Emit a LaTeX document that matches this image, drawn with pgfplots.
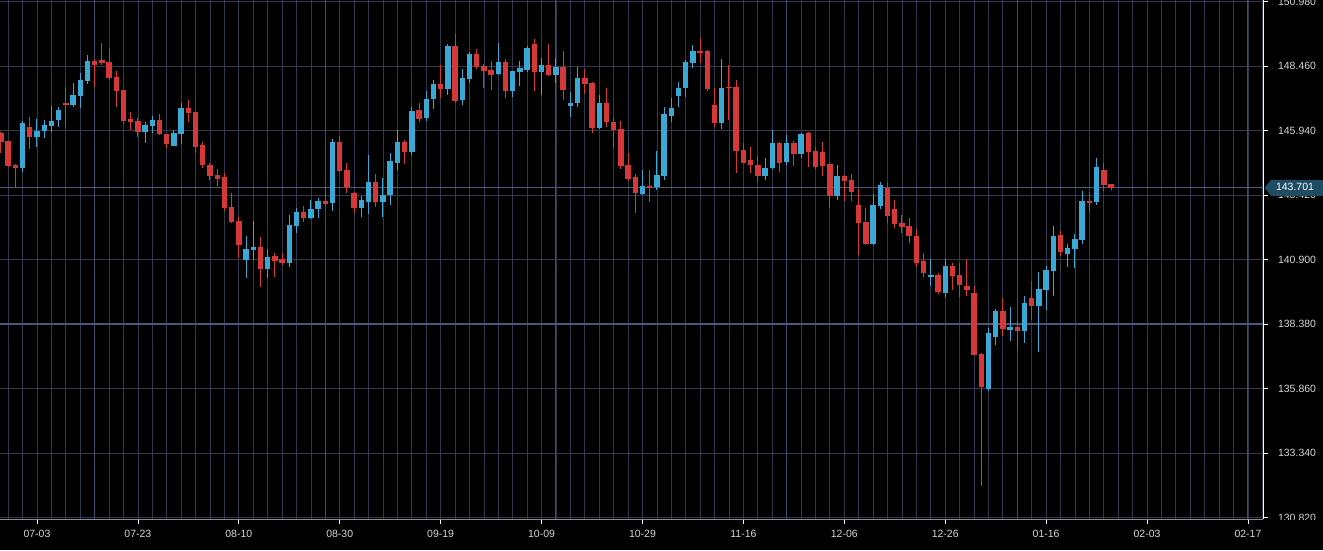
\documentclass[border=0pt]{standalone}
\usepackage{pgfplots}
\pgfplotsset{compat=1.18}
\usepackage{pgfplotstable}
\usepackage{fontspec}
\setmainfont{Liberation Sans}
\definecolor{bg}{RGB}{0,0,0}
\definecolor{gridc}{RGB}{50,56,80}
\definecolor{gridb}{RGB}{78,86,122}
\definecolor{gridv}{RGB}{66,73,106}
\definecolor{upc}{RGB}{58,168,212}
\definecolor{dnc}{RGB}{212,56,56}
\definecolor{tickc}{RGB}{212,212,212}
\definecolor{pricebg}{RGB}{31,76,99}
\definecolor{axc}{RGB}{140,140,150}

\pgfplotstableread{
i o h l c
3 144.46 146.32 144.33 146.22
5 145.70 146.38 145.28 145.92
6 145.92 146.35 145.63 146.15
7 146.13 146.90 145.87 146.31
8 146.35 146.85 146.08 146.74
10 146.94 147.78 146.85 147.31
11 147.30 148.17 146.81 147.91
12 147.87 148.89 147.76 148.65
20 145.89 146.28 145.44 146.15
21 146.13 146.51 145.83 146.35
24 145.35 145.96 145.33 145.85
25 145.82 147.03 145.40 146.81
34 140.88 141.83 140.19 141.31
35 141.27 142.40 140.88 141.39
37 140.53 141.30 140.17 140.99
40 140.78 142.64 140.62 142.25
41 142.21 142.92 141.92 142.74
43 142.53 143.22 142.47 142.86
44 142.87 143.29 142.51 143.19
46 143.09 145.59 142.81 145.50
50 142.92 143.38 142.57 143.22
51 143.16 144.98 142.67 143.92
53 143.16 144.07 142.57 143.42
54 143.42 145.05 143.03 144.75
55 144.68 145.96 144.40 145.49
57 145.11 146.85 144.98 146.71
59 146.42 147.48 146.31 147.17
60 147.17 147.91 146.78 147.76
62 147.56 149.32 147.33 149.24
64 147.13 148.33 146.94 147.99
65 147.95 149.02 147.81 148.93
69 148.15 149.37 148.12 148.60
71 147.49 148.28 147.26 148.26
72 148.24 148.65 147.69 148.39
73 148.30 149.24 148.21 149.17
75 148.24 148.76 147.33 148.49
77 148.11 148.78 147.78 148.43
79 146.90 147.46 146.45 147.03
80 147.00 148.41 146.87 148.00
83 146.03 147.33 145.99 147.03
89 143.46 144.40 143.42 143.77
91 143.75 145.15 143.62 144.20
92 144.18 146.85 144.01 146.57
93 146.52 147.22 146.28 146.81
94 147.30 147.85 146.87 147.62
95 147.62 148.69 147.26 148.62
96 148.56 149.28 148.37 149.05
100 146.24 148.72 145.99 147.62
106 144.18 144.85 144.01 144.49
107 144.46 145.96 144.42 145.44
109 144.70 145.76 144.59 145.44
111 145.02 145.85 144.85 145.80
116 143.39 144.59 143.22 144.18
121 141.51 143.45 141.48 143.03
122 143.00 143.91 142.86 143.81
129 140.21 140.91 139.87 140.29
131 139.60 140.91 139.45 140.65
137 135.83 138.21 135.78 138.04
138 137.89 138.95 137.56 138.90
140 138.15 139.06 137.72 138.25
142 138.12 139.47 137.63 139.21
144 139.10 140.42 137.30 139.75
145 139.71 140.65 138.93 140.49
146 140.46 142.21 139.47 141.82
148 141.12 141.49 140.62 141.36
149 141.31 141.88 140.56 141.70
150 141.66 143.58 141.51 143.19
152 143.13 144.85 143.03 144.53
}\up

\pgfplotstableread{
i o h l c
0 145.83 145.89 145.05 145.50
1 145.53 145.55 144.50 144.55
2 144.60 144.62 143.74 144.49
4 146.06 146.45 145.21 145.70
9 147.03 147.65 146.08 146.95
13 148.65 148.72 147.65 148.50
14 148.69 149.37 148.50 148.59
15 148.60 149.11 147.91 148.00
16 148.03 148.26 146.87 147.48
17 147.52 147.54 146.19 146.32
18 146.38 146.66 145.96 146.29
19 146.32 146.42 145.70 145.89
22 146.35 146.58 145.76 145.79
23 145.80 145.82 145.24 145.41
26 146.81 147.13 146.28 146.64
27 146.66 146.68 145.05 145.31
28 145.37 145.50 144.49 144.59
29 144.59 144.68 144.01 144.16
30 144.20 144.44 143.78 144.05
31 144.11 144.27 142.81 142.93
32 142.96 143.49 142.31 142.37
33 142.40 142.57 140.95 141.47
36 141.39 141.79 139.84 140.53
38 141.04 141.17 140.20 140.84
39 140.91 141.17 140.69 140.78
42 142.74 142.99 142.38 142.51
45 143.19 143.68 143.00 143.06
47 145.50 145.72 144.33 144.37
48 144.40 144.68 143.49 143.75
49 143.51 143.53 142.70 142.92
52 143.92 144.24 142.94 143.16
56 145.50 145.57 144.63 145.11
58 146.74 147.03 146.26 146.39
61 147.76 148.52 147.20 147.56
63 149.24 149.71 147.00 147.09
66 148.93 149.11 148.33 148.43
67 148.46 148.54 147.59 148.26
68 148.30 148.65 147.52 148.11
70 148.60 148.72 147.20 147.49
74 149.32 149.51 147.49 148.24
76 148.49 149.32 148.07 148.11
78 148.43 149.06 147.13 147.52
81 148.00 148.33 147.35 147.74
82 147.78 147.85 145.83 146.03
84 147.03 147.59 146.06 146.26
85 146.26 146.42 145.24 145.96
86 146.00 146.32 144.42 144.55
87 144.59 145.07 143.98 144.05
88 144.14 144.24 142.73 143.51
90 143.77 144.40 143.16 143.72
97 149.05 149.54 148.59 148.98
98 149.05 149.08 147.49 147.55
99 146.94 147.59 146.09 146.24
101 147.65 148.50 146.35 147.61
102 147.65 147.91 144.27 145.15
103 145.18 145.44 144.66 144.68
104 144.79 145.31 144.27 144.59
105 144.59 144.94 143.94 144.18
108 145.46 145.50 144.33 144.66
110 145.44 145.53 144.55 145.02
112 145.83 145.89 144.53 145.11
113 145.14 145.28 144.42 144.53
114 145.09 145.50 144.16 144.55
115 144.63 144.68 142.90 143.39
117 144.18 144.20 143.20 143.98
118 144.01 144.23 143.20 143.55
119 143.03 143.64 141.08 142.34
120 142.38 142.90 141.45 141.49
123 143.71 143.88 142.31 142.61
124 142.87 143.22 142.12 142.29
125 142.34 142.64 141.92 142.18
126 142.22 142.51 141.53 141.83
127 141.82 142.08 140.60 140.78
128 140.85 141.14 140.23 140.38
130 140.29 140.38 139.55 139.64
132 140.65 140.75 139.71 140.27
133 140.29 140.75 139.45 139.90
134 139.87 140.91 139.47 139.71
135 139.60 139.87 137.15 137.17
136 137.21 137.25 132.05 135.91
139 138.90 139.41 137.92 138.19
141 138.27 138.51 137.37 138.12
143 139.41 140.06 138.54 139.10
147 141.86 142.01 141.04 141.21
151 143.19 143.55 142.70 143.13
153 144.40 144.68 143.59 143.81
154 143.85 143.86 143.63 143.70
}\dn

\begin{document}
\begin{tikzpicture}
\useasboundingbox (0pt,0pt) rectangle (1323pt,550pt);
\clip (0pt,0pt) rectangle (1323pt,550pt);
\fill[bg] (0pt,0pt) rectangle (1323pt,550pt);
\begin{axis}[
  at={(0pt,31pt)}, anchor=south west,
  width=1263pt, height=519pt, scale only axis,
  xmin=-0.133, xmax=175.09, ymin=130.76, ymax=151.04,
  axis x line*=bottom, axis y line*=right,
  x axis line style={draw=axc, line width=0.8pt},
  y axis line style={draw=white, line width=1pt},
  xtick={5,19,...,173},
  xticklabels={07-03,07-23,08-10,08-30,09-19,10-09,10-29,11-16,12-06,12-26,01-16,02-03,02-17},
  minor xtick={1,3,...,175},
  ytick={130.82,133.34,135.86,138.38,140.90,143.42,145.94,148.46,150.98},
  scaled y ticks=false,
  xmajorgrids, xminorgrids, ymajorgrids,
  major grid style={draw=gridc, line width=0.8pt},
  minor grid style={draw=gridc, line width=0.8pt},
  tick align=outside,
  major tick length=5pt, minor tick length=0pt,
  tick style={draw=white, line width=0.8pt},
  extra x ticks={13,45,77,109,141,173},
  extra x tick labels={},
  extra x tick style={grid=major, major grid style={draw=gridv, line width=1pt}, major tick length=0pt},
  extra y ticks={138.38},
  extra y tick labels={},
  extra y tick style={grid=major, major grid style={draw=gridb, line width=1.3pt}, major tick length=0pt},
  /pgf/number format/assume math mode=true,
  tick label style={font=\fontsize{10.5}{12}\selectfont, text=tickc},
  y tick label style={/pgf/number format/.cd, fixed, fixed zerofill, precision=3, 1000 sep={}, /tikz/.cd, anchor=west, xshift=6.5pt},
  x tick label style={yshift=-3pt},
]
% current price line
\addplot[forget plot, draw=gridb, line width=0.8pt] coordinates {(-1,143.701) (176,143.701)};
% wicks
\addplot[forget plot, draw=none, mark=none, error bars/.cd, y dir=both, y explicit, error mark=none,
  error bar style={draw=upc, line width=1pt}]
  table[x=i, y expr=(\thisrow{h}+\thisrow{l})/2, y error expr=(\thisrow{h}-\thisrow{l})/2] {\up};
\addplot[forget plot, draw=none, mark=none, error bars/.cd, y dir=both, y explicit, error mark=none,
  error bar style={draw=dnc, line width=1pt}]
  table[x=i, y expr=(\thisrow{h}+\thisrow{l})/2, y error expr=(\thisrow{h}-\thisrow{l})/2] {\dn};
% bodies
\addplot[forget plot, draw=none, mark=none, error bars/.cd, y dir=both, y explicit, error mark=none,
  error bar style={draw=upc, line width=5.4pt}]
  table[x=i, y expr=(\thisrow{o}+\thisrow{c})/2, y error expr={max(abs(\thisrow{o}-\thisrow{c})/2,0.03)}] {\up};
\addplot[forget plot, draw=none, mark=none, error bars/.cd, y dir=both, y explicit, error mark=none,
  error bar style={draw=dnc, line width=5.4pt}]
  table[x=i, y expr=(\thisrow{o}+\thisrow{c})/2, y error expr={max(abs(\thisrow{o}-\thisrow{c})/2,0.03)}] {\dn};
\coordinate (P) at (axis cs:175.09,143.701);
\end{axis}
\fill[bg] (1264pt,0pt) rectangle (1323pt,30.5pt);
\fill[pricebg] ([xshift=1.5pt]P) -- ([xshift=8pt,yshift=8pt]P) -- ([xshift=62pt,yshift=8pt]P)
  -- ([xshift=62pt,yshift=-8pt]P) -- ([xshift=8pt,yshift=-8pt]P) -- cycle;
\node[text=white, font=\fontsize{10.5}{12}\selectfont, inner sep=0pt] at ([xshift=32pt,yshift=0.5pt]P) {143.701};
\end{tikzpicture}
\end{document}
